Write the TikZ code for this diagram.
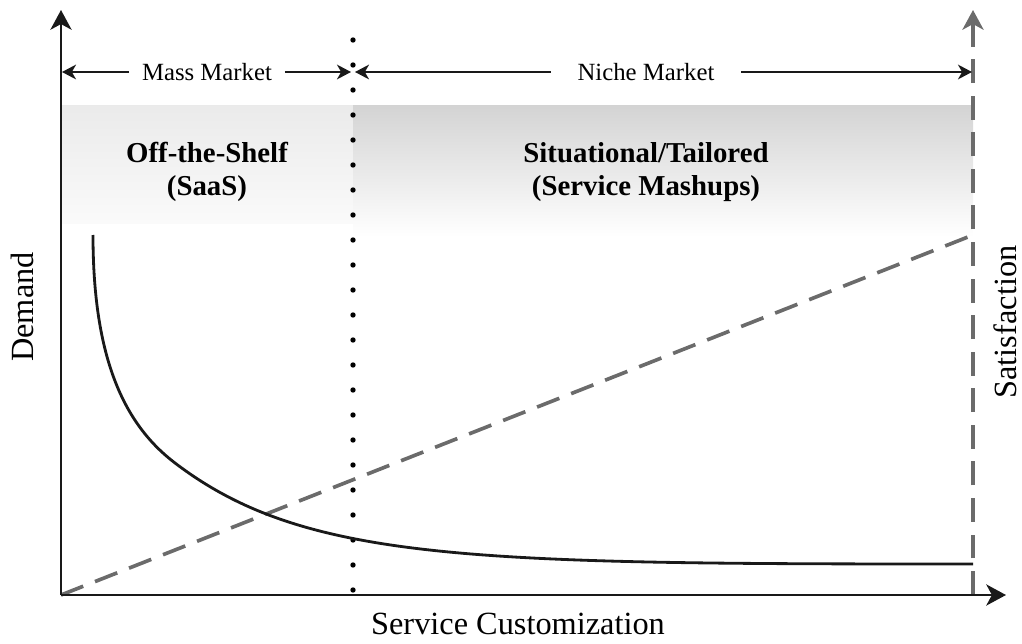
\documentclass[tikz,border=0pt]{standalone}
\usepackage{fontspec}
\setmainfont{Liberation Serif}
\usepackage{tikz}
\usetikzlibrary{arrows.meta}
\definecolor{dashgray}{HTML}{6B6B6B}

\begin{document}
\begin{tikzpicture}[x=0.025cm,y=-0.025cm,
  axis/.style={line width=2pt,black!90,-{Stealth[length=14pt,width=15pt,inset=4pt]}},
  mktarrow/.style={line width=1.2pt,black!90,-{Stealth[length=10pt,width=10.5pt,inset=3pt]}},
  dashline/.style={line width=2.6pt,dashgray,dash pattern=on 17pt off 9pt},
  mkt/.style={font=\fontsize{17.6}{20}\selectfont,inner ysep=2pt},
  seg/.style={font=\fontsize{20.5}{23}\selectfont\bfseries,align=center},
  lbl/.style={font=\fontsize{23}{26}\selectfont,inner sep=0.5pt}]
\useasboundingbox (0,0) rectangle (1022,644);
% shaded bands
\shade[top color=black!8,bottom color=black!2] (61,106) rectangle (353,223);
\shade[top color=black!17,bottom color=white] (353,106) rectangle (973,237);
%
\coordinate (O) at (61,595);
\coordinate (Ytop) at (61,10);
\coordinate (Xend) at (1006,595);
\coordinate (Rbot) at (973,595);
\coordinate (Rtop) at (973,10);
\coordinate (Rmid) at (973,235);
\coordinate (mL) at (62,72);
\coordinate (mR) at (351,72);
\coordinate (nL) at (355,72);
\coordinate (nR) at (972,72);
%
\draw[dashline,-{Stealth[length=14pt,width=15pt,inset=4pt]}] (Rbot) -- (Rtop);
\draw[dashline] (O) -- (Rmid);
%
\foreach \k in {0,...,22}
  \fill (353,40+25*\k) circle[radius=1.9pt];
%
\node[mkt,inner xsep=9pt] (mass) at (207,72) {Mass Market};
\node[mkt,inner xsep=19pt] (niche) at (646,72) {Niche Market};
\draw[mktarrow] (mass.west) -- (mL);
\draw[mktarrow] (mass.east) -- (mR);
\draw[mktarrow] (niche.west) -- (nL);
\draw[mktarrow] (niche.east) -- (nR);
%
\node[seg] (shelf) at (207,172) {Off-the-Shelf\\(SaaS)};
\node[seg] (tailored) at (646,172) {Situational/Tailored\\(Service Mashups)};
%
\draw[line width=2pt,black!90] (93,235) .. controls (93,360) and (125,425) .. (175,463)
  .. controls (305,562) and (473,564) .. (973,564);
%
\draw[axis] (O) -- (Ytop);
\draw[axis] (O) -- (Xend);
%
\node[lbl,rotate=90] (demand) at (22,307) {Demand};
\node[lbl,rotate=90] (satis) at (1005,322) {Satisfaction};
\node[lbl] (custom) at (518,624) {Service Customization};
\end{tikzpicture}
\end{document}
